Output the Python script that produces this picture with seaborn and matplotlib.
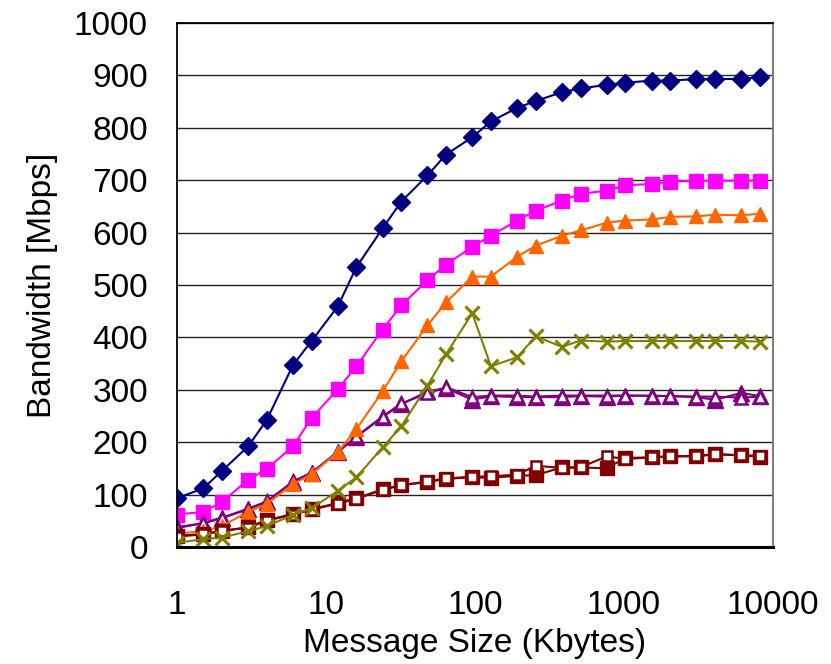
#
# Bandwidth vs message size, several transports (log x axis)
#

import matplotlib
matplotlib.use('Agg')
import matplotlib.pyplot as plt
import numpy as np
import pandas as pd
import seaborn as sns

# message sizes in Kbytes
sizes = [1, 1.5, 2, 3, 4, 6, 8, 12, 16, 24, 32, 48, 64, 96, 128, 192, 256,
         384, 512, 768, 1024, 1536, 2048, 3072, 4096, 6144, 8192]

navy_bw = [93, 112, 145, 192, 242, 347, 393, 459, 534, 608, 659, 709, 749,
           782, 812, 838, 851, 868, 875, 882, 886, 890, 890, 893, 893, 893, 897]
magenta_bw = [62, 67, 86, 128, 149, 192, 246, 301, 345, 415, 461, 509, 539,
              573, 594, 623, 642, 661, 674, 680, 690, 693, 697, 699, 699, 699, 699]
orange_bw = [26, 30, 40, 67, 82, 120, 139, 181, 225, 297, 354, 423, 467,
             516, 516, 554, 575, 594, 604, 619, 623, 625, 630, 631, 634, 633, 636]
olive_bw = [8, 15, 18, 30, 40, 61, 74, 107, 133, 190, 230, 308, 368,
            446, 345, 362, 402, 382, 394, 392, 393, 393, 393, 393, 393, 393, 392]
purple_filled_bw = [38, 45, 55, 72, 86, 124, 141, 181, 210, 248, 272, 297, 303,
                    281, 288, 286, 286, 286, 288, 287, 289, 288, 288, 286, 281, 294, 288]
purple_open_bw = [36, 46, 56, 73, 87, 125, 142, 182, 211, 249, 274, 293, 305,
                  286, 289, 289, 287, 289, 289, 289, 289, 289, 288, 287, 287, 285, 287]
red_filled_bw = [21, 25, 30, 38, 51, 63, 72, 84, 93, 110, 118, 124, 130,
                 133, 132, 136, 137, 152, 152, 150, 170, 171, 173, 173, 177, 175, 172]
red_open_bw = [20, 24, 31, 37, 50, 62, 71, 83, 92, 109, 118, 125, 131,
               134, 135, 138, 155, 151, 152, 173, 168, 171, 173, 174, 177, 175, 174]

yticks = [0, 100, 200, 300, 400, 500, 600, 700, 800, 900, 1000]
xticks = [1, 10, 100, 1000, 10000]

# (name, values, color, marker, size, face)  -- drawn in this order
series = [
    ('navy', navy_bw, '#000080', 'D', 9, 'fill'),
    ('magenta', magenta_bw, '#FF00FF', 's', 9.5, 'fill'),
    ('purple_f', purple_filled_bw, '#800080', '^', 11, 'fill'),
    ('purple_o', purple_open_bw, '#800080', '^', 8.5, 'white'),
    ('orange', orange_bw, '#FF6600', '^', 10, 'fill'),
    ('red_f', red_filled_bw, '#800000', 's', 10, 'fill'),
    ('red_o', red_open_bw, '#800000', 's', 7, 'white'),
    ('olive', olive_bw, '#808000', 'x', 10, 'x'),
]


def main():
    sns.set_style('white')
    plt.rcParams['font.family'] = ['Liberation Sans', 'DejaVu Sans']
    plt.rcParams['text.color'] = 'black'
    plt.rcParams['axes.labelcolor'] = 'black'
    plt.rcParams['xtick.color'] = 'black'
    plt.rcParams['ytick.color'] = 'black'

    frames = []
    for name, vals, *_ in series:
        frames.append(pd.DataFrame({'size': sizes, 'bw': vals, 'series': name}))
    df = pd.concat(frames, ignore_index=True)

    fig = plt.figure(figsize=(8.31, 6.64), dpi=100)
    ax = fig.add_axes([0.213, 0.1762, 0.717, 0.7892])

    for name, vals, color, marker, ms, face in series:
        kw = dict(marker=marker, markersize=ms, color=color, linewidth=1.5,
                  markeredgecolor=color, linestyle='-')
        if face == 'x':
            kw['markeredgewidth'] = 2.2
        elif face == 'fill':
            kw['markerfacecolor'] = color
            kw['markeredgewidth'] = 1
        else:
            kw['markerfacecolor'] = 'white'
            kw['markeredgewidth'] = 1.8
        sns.lineplot(data=df[df.series == name], x='size', y='bw', ax=ax,
                     legend=False, **kw)

    ax.set_xscale('log')
    ax.set_xlim(1, 10000)
    ax.set_ylim(0, 1000)
    ax.set_xticks(xticks)
    ax.set_xticklabels([str(t) for t in xticks])
    ax.minorticks_off()
    ax.set_yticks(yticks)

    ax.yaxis.grid(True, color='#222222', linewidth=1)
    ax.set_axisbelow(True)

    for side in ['left', 'top']:
        ax.spines[side].set_color('black')
        ax.spines[side].set_linewidth(1.3)
    ax.spines['bottom'].set_color('black')
    ax.spines['bottom'].set_linewidth(2.2)
    ax.spines['right'].set_color('#808080')
    ax.spines['right'].set_linewidth(1.5)

    ax.tick_params(axis='y', direction='in', length=9, width=1, color='#555555',
                   labelcolor='black', labelsize=24, pad=21)
    ax.tick_params(axis='x', direction='in', length=8, width=1, color='black',
                   labelcolor='black', labelsize=24, pad=31)

    ax.set_xlabel('Message Size (Kbytes)', fontsize=24, color='black')
    ax.set_ylabel('Bandwidth [Mbps]', fontsize=24, color='black')
    ax.xaxis.set_label_coords(0.5, -0.155)
    ax.yaxis.set_label_coords(-0.2, 0.5)

    fig.savefig('out.png', dpi=100)
    plt.close(fig)


if __name__ == '__main__':
    main()
